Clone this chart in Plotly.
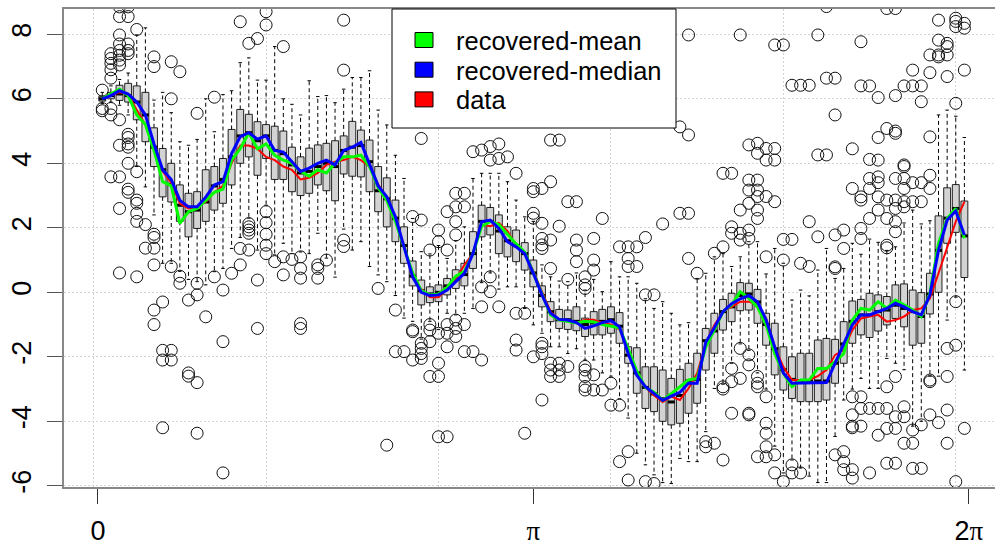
import plotly.graph_objects as go

# ---------------- data ----------------
pos = list(range(1, 102))

q1 = [5.93,6.0,5.95,5.9,5.35,4.67,3.9,2.96,2.8,2.2, 1.72,1.98,2.2,2.55,2.76,3.33,4.0,4.2,3.63,4.15,
      3.5,3.5,3.12,3.0,3.07,3.33,3.15,2.84,3.67,3.6, 3.58,3.12,2.5,2.03,1.57,0.9,0.2,-0.39,-0.32,-0.29,
      -0.08,0.12,0.2,0.74,1.72,1.78,1.2,1.1,0.95,0.69, 0.17,-0.45,-0.91,-1.12,-1.15,-1.19,-1.37,-1.32,-1.32,-1.27,
      -1.58,-2.2,-3.13,-3.6,-3.7,-4.0,-4.11,-4.06,-3.75,-3.44, -2.41,-1.89,-1.17,-0.91,-0.57,-0.55,-0.96,-1.64,-2.56,-3.03,
      -3.29,-3.39,-3.39,-3.39,-3.34,-2.82,-2.2,-1.58,-1.32,-1.4, -1.2,-1.01,-0.81,-1.07,-1.64,-1.58,-0.67,0.0,1.52,1.86,
      0.46]
med = [6.0,6.1,6.15,6.1,5.9,5.5,4.5,3.8,3.35,2.7, 2.5,2.55,2.8,3.3,3.5,4.2,4.85,4.95,4.7,4.85,
       4.4,4.3,3.95,3.7,3.75,3.9,4.0,3.9,4.4,4.5, 4.55,4.05,3.15,2.9,2.3,1.45,0.5,0.05,-0.05,0.0,
       0.2,0.4,0.55,1.2,2.2,2.2,1.9,1.6,1.45,1.2, 0.6,-0.1,-0.6,-0.85,-0.85,-0.9,-1.0,-0.95,-0.9,-0.85,
       -1.05,-1.95,-2.5,-2.95,-3.15,-3.3,-3.4,-3.2,-2.75,-2.7, -1.5,-1.2,-0.6,-0.45,-0.1,-0.05,-0.3,-1.0,-1.75,-2.4,
       -2.7,-2.75,-2.75,-2.75,-2.75,-2.2,-1.6,-0.9,-0.7,-0.7, -0.6,-0.55,-0.4,-0.5,-0.6,-0.75,-0.05,1.3,2.3,2.6,
       1.75]
q3 = [6.08,6.2,6.42,6.48,6.4,6.2,5.1,4.46,4.0,3.33, 3.07,3.12,3.8,3.9,4.15,5.05,5.67,5.52,5.29,5.2,
      5.15,5.0,4.5,4.2,4.47,4.57,4.62,4.7,4.85,5.3, 5.03,4.72,3.9,3.55,2.86,2.03,0.97,0.38,0.17,0.23,
      0.43,0.7,0.9,1.88,2.7,2.63,2.4,2.03,1.93,1.54, 1.0,0.2,-0.29,-0.53,-0.55,-0.45,-0.8,-0.6,-0.53,-0.45,
      -0.63,-1.69,-1.72,-2.31,-2.31,-2.41,-2.67,-2.39,-2.2,-1.89, -1.12,-0.65,-0.22,-0.03,0.3,0.28,0.09,-0.65,-0.96,-1.69,
      -2.0,-1.89,-1.89,-1.48,-1.43,-1.46,-0.91,-0.27,-0.22,-0.03, -0.08,-0.13,0.23,0.26,0.07,-0.01,0.59,2.37,3.24,3.34,
      2.83]
lo = [5.85,5.9,5.8,5.5,3.9,3.27,2.4,0.9,0.9,0.65, 0.4,0.33,0.23,0.64,0.74,1.36,1.7,2.3,1.31,2.7,
      1.16,1.52,1.2,1.25,1.2,1.83,1.06,0.47,1.96,1.31, 1.57,0.8,0.54,0.33,-0.1,-0.8,-0.9,-1.45,-0.9,-1.15,
      -0.65,-0.7,-0.65,-0.5,0.3,0.6,0.1,0.17,0.17,-0.5, -1.01,-1.27,-1.69,-1.69,-1.9,-1.75,-2.1,-2.1,-2.5,-2.6,
      -3.3,-3.9,-4.99,-5.35,-5.66,-5.9,-5.93,-5.15,-5.25,-5.25, -4.32,-2.98,-2.85,-2.2,-1.6,-1.8,-2.5,-3.0,-4.77,-5.6,
      -5.2,-5.45,-5.7,-5.9,-5.9,-4.47,-3.34,-3.0,-2.67,-2.98, -2.98,-2.05,-2.2,-2.4,-4.15,-4.0,-2.6,-2.6,-0.86,-0.15,
      -2.41]
hi = [6.2,6.4,6.6,6.8,7.98,8.2,5.96,6.2,5.57,4.67, 4.56,4.74,6.0,4.98,6.13,6.25,7.12,7.27,6.58,6.58,
      7.62,6.0,5.83,5.5,6.56,6.07,6.1,5.88,6.3,6.66, 6.66,6.87,5.65,5.19,4.25,3.53,2.29,1.26,1.19,1.45,
      1.05,1.6,2.03,3.53,3.69,3.69,3.69,3.43,2.86,2.34, 2.2,0.85,0.48,0.35,0.33,0.6,0.07,0.4,0.02,0.95,
      0.48,0.48,0.28,-0.2,-0.5,-0.29,-0.65,-1.01,-0.94,0.43, 0.59,1.1,1.2,0.8,1.1,1.57,1.57,0.57,1.36,0.9,
      -0.24,0.07,-0.11,0.69,1.36,0.43,0.74,1.52,1.18,1.65, 1.55,1.3,1.41,2.15,2.55,2.12,2.22,5.5,5.65,5.46,
      4.8]

recovered_mean = [6.0,6.15,6.3,6.1,5.5,5.2,4.4,3.43,3.3,2.14, 2.5,2.6,2.85,3.1,3.2,4.1,4.45,4.95,4.45,4.6,
      4.25,4.1,4.0,3.75,3.6,3.8,3.7,4.0,4.2,4.2, 4.25,3.9,3.25,2.85,2.2,1.4,0.6,0.05,-0.08,-0.05,
      0.15,0.5,0.65,1.2,2.05,2.2,2.1,1.8,1.5,1.25, 0.6,-0.05,-0.7,-0.85,-0.9,-0.95,-0.9,-0.92,-1.0,-1.05,
      -1.1,-1.75,-2.45,-2.95,-3.1,-3.35,-3.13,-2.92,-2.72,-2.67, -1.69,-1.17,-0.6,-0.39,0.02,-0.19,-0.45,-1.01,-1.9,-2.51,
      -2.92,-2.72,-2.72,-2.36,-2.36,-2.15,-1.9,-0.86,-0.5,-0.55, -0.29,-0.5,-0.24,-0.39,-0.55,-0.75,-0.03,1.52,2.29,2.6,
      1.67]
recovered_median = [6.0,6.1,6.25,6.15,5.9,5.5,4.6,3.8,3.5,2.85, 2.65,2.65,2.95,3.33,3.43,4.3,4.83,4.95,4.75,4.85,
      4.4,4.35,4.05,3.75,3.85,4.0,4.1,3.95,4.4,4.5, 4.65,4.0,3.3,2.96,2.34,1.41,0.48,0.0,-0.1,-0.08,
      0.07,0.33,0.59,1.2,2.19,2.24,1.98,1.57,1.41,1.2, 0.59,-0.08,-0.65,-0.84,-0.86,-0.94,-1.12,-1.04,-0.94,-0.88,
      -1.07,-1.9,-2.57,-2.93,-3.13,-3.35,-3.22,-3.1,-2.82,-2.82, -1.55,-1.1,-0.6,-0.35,-0.2,-0.1,-0.3,-0.85,-1.7,-2.5,
      -2.82,-2.82,-2.82,-2.82,-2.8,-2.2,-1.58,-1.01,-0.7,-0.7, -0.6,-0.5,-0.34,-0.45,-0.6,-0.7,-0.08,1.31,2.24,2.52,
      1.78]
data_line = [6.0,6.1,6.2,6.15,5.65,5.2,4.5,3.75,3.4,2.75, 2.6,2.65,2.8,3.1,3.3,4.0,4.55,4.55,4.45,4.2,
      4.1,3.9,3.8,3.5,3.55,3.7,3.95,4.05,4.1,4.2, 4.1,3.9,3.35,2.9,2.3,1.45,0.45,0.1,-0.15,-0.15,
      0.1,0.4,0.85,1.2,2.1,2.05,2.15,1.9,1.45,1.25, 0.65,0.0,-0.6,-0.85,-0.9,-0.95,-0.85,-0.85,-0.95,-1.0,
      -1.15,-1.8,-2.5,-2.95,-3.2,-3.4,-3.23,-3.34,-2.98,-2.51, -1.58,-1.01,-0.6,-0.45,-0.29,-0.29,-0.39,-0.81,-1.69,-2.31,
      -2.72,-2.72,-2.72,-2.6,-2.41,-1.94,-1.79,-1.17,-0.81,-0.75, -0.7,-0.91,-0.86,-0.75,-0.55,-0.5,-0.19,0.59,1.41,2.19,
      2.81]

outlier_pos = [
 3,3,4,4,3,5, 2,2,2,2,2, 3,3,3,3,3, 4,4,4, 1,1,1,2,2,3,3, 4,4,4,4,4, 2,3,5,4,4,3,5,5,5,5,
 6,7,7,6,7,7,3,5, 9,10,10,12,11,12,13,8,7,7, 8,9,8,9,11,11,12,8,12,15, 14,12,9,10,7,7,9,14,
 17,20,20,29,18,19,22,29, 18,18,18,18, 20,20,20,20,20, 17,16,17,18,15,19,21,22,22,23,24,24,24,26,26,26,27,29,29,
 15,19,24,24,
 38,44,45,46,47,46,47,48,49, 42,43,42,43,41,42,42,40,40,37,38,39,41,
 33,35,37,37, 39,39,40,41,41,42,42,42,43,38,38,38,38,37,35,36,39,41,43,44,45,39,40,40,
 45,45,47,46,49,49,49,46, 34,40,41,
 53,54, 51,51,52,53,55,56, 51,51,52,54,59, 52,52,52,53, 56,56,56,58,58,58,57,57,57, 53,55,
 61,62,63,64,62,63,62,66, 64,65, 50, 51,52,52,52, 53,53,53,54,54,54,55, 57,57,57,58,57,57,58,59,60,
 52,60,61,50,61,62,62,64,65,
 69,75,79,80,84, 81,82,83, 68,69, 76,77,77,78,79,78,79,84, 73,74, 76,77,76,77,77,78,79, 76,75,77,77, 68,69,
 74,74,75,76,76,75,73, 80,81,83,84, 69,70,72,78,80,82,83,
 75,76,76,74,75,74,73,73, 77,77,77,78, 74,76,76, 78,78,71,72,71,73, 77,78,79,78, 79,80,81,81,82,
 85,92,93,89, 98,100,100,101,101,100, 98,99,98,99,99,97,98, 95,97,99,101,
 85,86,89,90,94,95,96,91,93,96,100, 86,97,91,92,93,93, 85,88, 90,91,94,94,97,
 90,91,91,93,94,95,96,97, 88,89,89,90,91,92, 94,94,95,96,93,94,93, 90,92,91,93,93,
 89,89,87,87,86,92,92, 86,86,
 93,92,88,89,88,89,90,91,92, 88,88,89,91,92,93,93,94,94,94, 95,95,96,97,98,99,99,101,
 86,87,87,87,88,88,90,92,93,95,96,100, 99,97,97,100,99,100]
outlier_val = [
 8.85,8.55,8.85,8.55,7.98,8.15, 7.4,7.25,7.1,6.9,6.64, 7.7,7.5,7.35,7.2,7.05, 7.7,7.5,7.4,
 6.27,5.7,5.63,5.7,5.5,5.35,4.56, 4.9,4.8,4.6,4.5,4.0, 3.58,3.58,3.74,3.2,3.1,2.6,2.86,2.76,2.45,2.2,
 2.1,1.8,1.7,1.37,1.37,0.85,0.6,0.48, 0.8,0.5,0.28,0.28,-0.24,-0.08,-0.76,-0.3,-0.55,-1.0,
 -1.8,-1.8,-2.1,-2.1,-2.5,-2.6,-2.8,-4.2,-4.37,-5.6, 6.05,5.55,7.15,6.84,7.3,7.0,6.0,0.48,
 8.39,8.7,8.29,8.44,7.72,7.87,7.62,6.89, 2.13,2.03,1.93,1.83, 2.5,2.16,1.8,1.46,1.2,
 1.36,0.59,0.85,1.31,0.07,0.38,0.95,1.1,0.54,1.02,1.1,0.74,0.44,0.85,0.74,0.44,1.0,1.62,1.42,
 -1.53,-1.12,-0.97,-1.12,
 4.77,4.36,4.41,4.52,4.6,4.1,4.15,4.2,3.69, 3.07,3.07,2.65,2.65,2.5,2.19,1.78,1.93,1.57,2.35,2.24,1.31,1.31,
 0.12,-0.55,-1.17,-1.22, -1.0,-1.17,-1.27,-1.0,-1.27,-0.86,-1.12,-1.37,-1.0,-1.58,-1.74,-1.9,-2.05,-2.1,-1.84,-1.84,
 -1.53,-1.69,-1.84,-1.84,-2.1,-2.61,-2.61,-2.2,
 0.17,-0.45,-0.45,0.02,-0.65,-1.48,-1.79,0.48, -4.74,-4.48,-4.48,
 4.72,4.72, 3.22,3.12,3.22,3.43,2.81,2.81, 2.45,2.3,2.14,2.05,2.29, 1.67,1.47,1.36,1.62,
 1.62,1.31,0.95,1.67,1.0,0.69,0.48,0.23,0.12, 0.74,0.4,
 1.41,1.41,1.41,1.7,1.05,0.8,0.8,2.12, -0.08,-0.08, -0.65, -2.0,-1.58,-1.69,-1.9,
 -2.2,-2.41,-2.61,-2.2,-2.41,-2.61,-2.3, -2.3,-2.41,-2.61,-2.56,-2.92,-3.03,-3.03,-3.03,-2.82,
 -3.34,-3.5,-3.5,-4.37,-5.25,-4.94,-5.82,-5.87,-5.93,
 7.98,7.98,7.67,7.67,7.98, 6.42,6.42,6.42, 5.13,4.88, 4.57,4.62,4.31,4.46,4.46,4.1,4.1,4.26, 3.69,3.69,
 3.48,3.48,3.17,3.17,2.97,2.97,2.81, 2.76,2.55,2.55,2.29, 2.45,2.45,
 2.03,1.83,1.83,1.93,1.67,1.62,1.41, 1.64,1.64,2.19,1.72, 1.05,0.59,1.21,1.1,1.0,0.9,0.8,
 -1.74,-1.94,-2.25,-2.36,-2.67,-2.77,-2.93,-3.0, -2.61,-2.82,-2.93,-3.24, -3.75,-3.75,-3.8,
 -4.06,-4.37,-4.63,-4.68,-4.79,-5.2, -5.1,-5.1,-5.04,-4.79, -5.6,-5.87,-5.35,-5.6,-5.6,
 8.86,8.8,8.8,7.77, 8.44,8.5,8.4,8.34,8.19,8.24, 7.82,7.72,7.36,7.36,7.62,7.36,7.3, 6.89,6.81,6.69,6.89,
 6.64,6.64,6.4,6.4,6.4,6.4,6.4,6.04,6.1,5.91,5.86, 5.5,4.82,4.8,5.08,5.0,4.93, 4.26,4.45, 4.12,4.1,3.95,3.9,3.63,
 3.53,3.58,3.4,3.53,3.53,3.4,3.4,3.22, 3.22,2.96,2.86,3.22,2.96,2.86, 3.22,2.81,2.81,2.81,2.6,2.65,2.86,
 2.29,2.29,2.55,2.19,1.88, 1.98,1.67,1.93,1.36,1.78,1.46,1.38, 0.79,0.74,
 -2.61,-2.93,-3.24,-3.24,-3.8,-3.6,-3.6,-3.6,-3.6, -4.15,-4.2,-4.15,-4.43,-4.22,-4.22,-3.86,-3.55,-3.86,-4.68,
 -4.27,-4.68,-4.11,-3.8,-4.04,-3.65,-4.68,-4.22,
 -5.04,-4.94,-5.25,-5.5,-5.5,-5.76,-5.6,-5.3,-5.3,-5.46,-5.46,-5.87, -2.61,-2.72,-2.77,-1.64,-1.74,-0.29]

x_tick_vals = [0.5, 51, 101.5]
x_tick_text = ["0", "<span style='font-family:Liberation Serif'>π</span>",
               "2<span style='font-family:Liberation Serif'>π</span>"]
x_grid_vals = [0, 20, 40, 60, 80, 100]
y_tick_vals = [-6, -4, -2, 0, 2, 4, 6, 8]
y_tick_text = ["-6", "-4", "-2", "0", "2", "4", "6", "8"]

legend_labels = ["recovered-mean", "recovered-median", "data"]
legend_colors = ["#00FF00", "#0000FF", "#FF0000"]

# ---------------- figure ----------------
W, H = 995, 548
ML, MR, MT, MB = 64, 0, 9, 61
FONT = "Liberation Sans, Arial, sans-serif"

def segs(xs0, xs1, ys0, ys1):
    X, Y = [], []
    for a, b, c, d in zip(xs0, xs1, ys0, ys1):
        X += [a, b, None]
        Y += [c, d, None]
    return X, Y

fig = go.Figure()

# whiskers (dashed)
wx1, wy1 = segs(pos, pos, q3, hi)
wx2, wy2 = segs(pos, pos, q1, lo)
fig.add_trace(go.Scatter(x=wx1 + wx2, y=wy1 + wy2, mode="lines",
                         line=dict(color="black", width=1, dash="4px,3px"),
                         hoverinfo="skip", showlegend=False))
# staples
cap = 0.2
cx1, cy1 = segs([p - cap for p in pos], [p + cap for p in pos], hi, hi)
cx2, cy2 = segs([p - cap for p in pos], [p + cap for p in pos], lo, lo)
fig.add_trace(go.Scatter(x=cx1 + cx2, y=cy1 + cy2, mode="lines",
                         line=dict(color="black", width=1),
                         hoverinfo="skip", showlegend=False))
# boxes
fig.add_trace(go.Box(x=pos, q1=q1, median=med, q3=q3, lowerfence=q1, upperfence=q3,
                     orientation="v", width=0.8, whiskerwidth=0,
                     fillcolor="#D3D3D3", line=dict(color="#222222", width=1),
                     boxpoints=False, showlegend=False))
# thick medians
half = 0.4
mx, my = segs([p - half for p in pos], [p + half for p in pos], med, med)
fig.add_trace(go.Scatter(x=mx, y=my, mode="lines", line=dict(color="black", width=3),
                         hoverinfo="skip", showlegend=False))
# outliers
fig.add_trace(go.Scatter(x=outlier_pos, y=outlier_val, mode="markers",
                         marker=dict(symbol="circle-open", size=12, color="#111111",
                                     line=dict(width=1)),
                         showlegend=False))
# lines
fig.add_trace(go.Scatter(x=pos, y=data_line, mode="lines",
                         line=dict(color="#FF0000", width=2), showlegend=False))
fig.add_trace(go.Scatter(x=pos, y=recovered_mean, mode="lines",
                         line=dict(color="#00FF00", width=3), showlegend=False))
fig.add_trace(go.Scatter(x=pos, y=recovered_median, mode="lines",
                         line=dict(color="#0000FF", width=3), showlegend=False))

# legend (drawn as a box)
pw, ph = W - ML - MR, H - MT - MB
def px_x(px): return (px - ML) / pw
def px_y(py): return (H - MB - py) / ph

shapes = [dict(type="rect", xref="paper", yref="paper",
               x0=px_x(392), x1=px_x(676), y0=px_y(128), y1=px_y(9),
               fillcolor="white", line=dict(color="black", width=1), layer="above")]
annotations = []
for i, (lab, col) in enumerate(zip(legend_labels, legend_colors)):
    cy = 40 + 29.7 * i
    shapes.append(dict(type="rect", xref="paper", yref="paper",
                       x0=px_x(415), x1=px_x(433), y0=px_y(cy + 7.5), y1=px_y(cy - 7.5),
                       fillcolor=col, line=dict(color="black", width=1), layer="above"))
    annotations.append(dict(xref="paper", yref="paper", x=px_x(454), y=px_y(cy + 1),
                            text=lab, showarrow=False, xanchor="left", yanchor="middle",
                            font=dict(family=FONT, size=25.5, color="black")))

fig.update_layout(
    width=W, height=H,
    margin=dict(l=ML, r=MR, t=MT, b=MB),
    paper_bgcolor="white", plot_bgcolor="white",
    shapes=shapes, annotations=annotations,
    showlegend=False,
    xaxis=dict(range=[-3.44, 104.55], tickmode="array", tickvals=x_tick_vals, ticktext=x_tick_text,
               ticks="outside", ticklen=15, tickcolor="#333333", tickwidth=1,
               showline=True, linecolor="#888888", linewidth=1.5, mirror=True,
               showgrid=False, zeroline=False, ticklabelstandoff=4,
               tickfont=dict(family=FONT, size=27, color="black"),
               minor=dict(tickmode="array", tickvals=x_grid_vals, showgrid=True,
                          gridcolor="#D3D3D3", griddash="2px,2px", gridwidth=1, ticks="")),
    yaxis=dict(range=[-6.037, 8.785], tickmode="array", tickvals=y_tick_vals, ticktext=y_tick_text,
               tickangle=-90, ticks="outside", ticklen=15, tickcolor="#555555", tickwidth=1,
               showline=True, linecolor="#888888", linewidth=1.5, mirror=False,
               showgrid=True, gridcolor="#D3D3D3", griddash="2px,2px", gridwidth=1, zeroline=False,
               ticklabelstandoff=5,
               tickfont=dict(family=FONT, size=27, color="black")),
)

fig.write_html("out.html")
